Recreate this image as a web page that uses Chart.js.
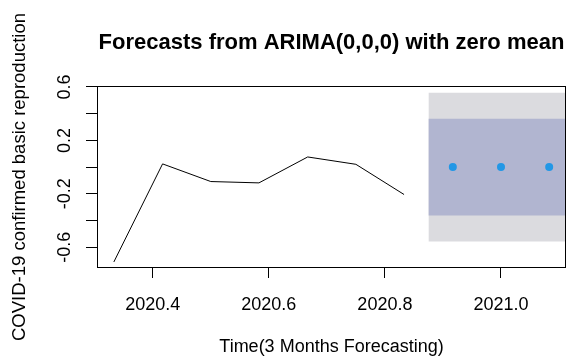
<!DOCTYPE html>
<html>
<head>
<meta charset="utf-8">
<script src="https://cdn.jsdelivr.net/npm/chart.js@4"></script>
<style>
  body { margin: 0; background: #fff; }
  canvas { display: block; }
</style>
</head>
<body>
<canvas id="myChart" width="570" height="356"></canvas>
<script>
// observed series (monthly, decimal years)
const obsTimes = [2020.333, 2020.417, 2020.5, 2020.583, 2020.667, 2020.75, 2020.833];
const obsValues = [-0.71, 0.024, -0.108, -0.118, 0.076, 0.021, -0.205];

// forecasts, zero mean
const fcTimes = [2020.917, 2021.0, 2021.083];
const fcValues = [0, 0, 0];

// prediction interval shading
const bandTimes = [2020.875, 2021.125];
const lo80 = [-0.362, -0.362];
const hi80 = [0.362, 0.362];
const lo95 = [-0.556, -0.556];
const hi95 = [0.556, 0.556];

const xTicks = [2020.4, 2020.6, 2020.8, 2021.0];
const yTicks = [-0.6, -0.4, -0.2, 0, 0.2, 0.4, 0.6];
const yLabelled = [-0.6, -0.2, 0.2, 0.6];

const font = "'Liberation Sans', Arial, sans-serif";

const pts = (xs, ys) => xs.map((x, i) => ({ x: x, y: ys[i] }));

const boxAndTitle = {
    id: 'boxAndTitle',
    afterDraw(chart) {
        const { ctx, chartArea } = chart;
        ctx.save();
        ctx.strokeStyle = '#000';
        ctx.lineWidth = 1;
        const l = Math.round(chartArea.left) + 0.5;
        const t = Math.round(chartArea.top) + 0.5;
        const r = Math.round(chartArea.right) - 0.5;
        const b = Math.round(chartArea.bottom) - 0.5;
        ctx.strokeRect(l, t, r - l, b - t);
        ctx.fillStyle = '#000';
        ctx.font = 'bold 22px ' + font;
        ctx.textAlign = 'center';
        ctx.textBaseline = 'alphabetic';
        ctx.fillText('Forecasts from ARIMA(0,0,0) with zero mean', (chartArea.left + chartArea.right) / 2, 49);
        ctx.restore();
    }
};

const band = (data, color, fill, order) => ({
    data: data,
    borderWidth: 0,
    borderColor: 'transparent',
    backgroundColor: color,
    pointRadius: 0,
    fill: fill,
    order: order
});

const ctx = document.getElementById('myChart').getContext('2d');
new Chart(ctx, {
    type: 'line',
    data: {
        datasets: [
            band(pts(bandTimes, lo95), '#DBDBDF', false, 6),
            band(pts(bandTimes, hi95), '#DBDBDF', '-1', 5),
            band(pts(bandTimes, lo80), '#B1B5D0', false, 4),
            band(pts(bandTimes, hi80), '#B1B5D0', '-1', 3),
            {
                data: pts(obsTimes, obsValues),
                borderColor: '#000',
                borderWidth: 1,
                pointRadius: 0,
                tension: 0,
                fill: false,
                order: 2
            },
            {
                data: pts(fcTimes, fcValues),
                showLine: false,
                pointRadius: 4,
                pointBackgroundColor: '#2297E6',
                pointBorderColor: '#2297E6',
                pointBorderWidth: 0,
                order: 1
            }
        ]
    },
    options: {
        responsive: false,
        animation: false,
        layout: { padding: { top: 86, right: 2, left: 0, bottom: 0 } },
        plugins: {
            legend: { display: false },
            tooltip: { enabled: false }
        },
        scales: {
            x: {
                type: 'linear',
                min: 2020.304,
                max: 2021.112,
                afterBuildTicks: scale => { scale.ticks = xTicks.map(v => ({ value: v })); },
                afterFit: scale => { scale.height = 88; },
                border: { display: false },
                grid: { drawOnChartArea: false, drawTicks: true, tickLength: 10, color: '#000' },
                ticks: {
                    padding: 16,
                    color: '#000',
                    font: { family: font, size: 18 },
                    maxRotation: 0,
                    autoSkip: false,
                    callback: v => v.toFixed(1)
                },
                title: {
                    display: true,
                    text: 'Time(3 Months Forecasting)',
                    color: '#000',
                    font: { family: font, size: 18 },
                    padding: { top: 0, bottom: -2 }
                }
            },
            y: {
                min: -0.755,
                max: 0.607,
                afterBuildTicks: scale => { scale.ticks = yTicks.map(v => ({ value: v })); },
                afterFit: scale => { scale.width = 97; },
                border: { display: false },
                grid: { drawOnChartArea: false, drawTicks: true, tickLength: 11, color: '#000' },
                ticks: {
                    padding: 5,
                    color: '#000',
                    font: { family: font, size: 18 },
                    minRotation: 90,
                    maxRotation: 90,
                    crossAlign: 'center',
                    autoSkip: false,
                    callback: v => yLabelled.some(l => Math.abs(l - v) < 1e-9) ? v.toFixed(1) : ''
                },
                title: {
                    display: true,
                    text: 'COVID-19 confirmed basic reproduction',
                    color: '#000',
                    font: { family: font, size: 18.5 },
                    padding: { top: 9, bottom: 0 }
                }
            }
        }
    },
    plugins: [boxAndTitle]
});
</script>
</body>
</html>
